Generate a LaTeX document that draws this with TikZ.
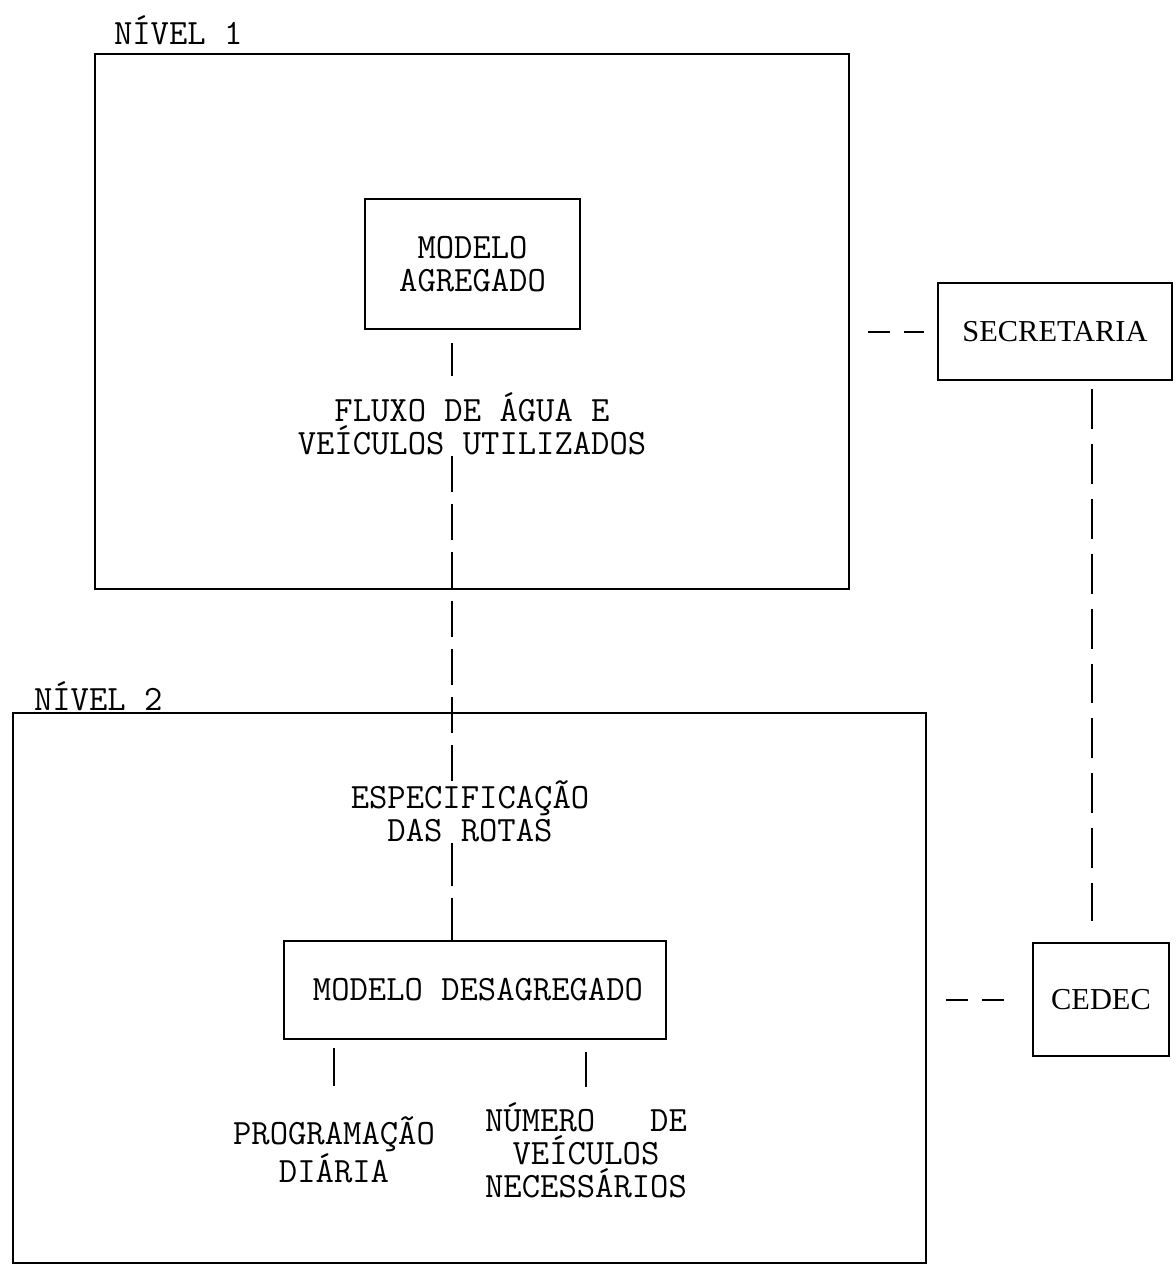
\documentclass[tikz,border=0pt]{standalone}
\usepackage{fontspec}
\newfontfamily\secfont{Liberation Serif}
\begin{document}
\begin{tikzpicture}[x=0.5pt,y=-0.5pt,
  line width=1pt,
  txt/.style={font=\fontsize{17.8}{16.6}\selectfont\ttfamily, align=center, inner sep=0pt},
  frame/.style={draw, inner sep=0pt},
  sbox/.style={draw, inner sep=0pt, font=\fontsize{15.2}{16}\selectfont\secfont},
  dashA/.style={dash pattern=on 18pt off 6.1pt},
  dashD/.style={dash pattern=on 21.5pt off 6pt},
  dashB/.style={dash pattern=on 19.95pt off 7.5pt},
  dashC/.style={dash pattern=on 11pt off 7pt}]
\useasboundingbox (0,0) rectangle (1176,1271);
\fill[white] (0,0) rectangle (1176,1271);

% level boxes
\node (box1) [frame, minimum width=377pt, minimum height=267.5pt] at (472,321.5) {};
\node (lvl1) [txt, anchor=west] at (113,30) {NÍVEL 1};
\node (box2) [frame, minimum width=456.5pt, minimum height=275pt] at (469.5,988) {};
\node (lvl2) [txt, anchor=west] at (33,696) {NÍVEL 2};

% inner boxes
\node (agr) [frame, txt, draw, minimum width=107.5pt, minimum height=65pt] at (472.5,264) {MODELO\\AGREGADO};
\node (des) [frame, txt, draw, minimum width=191pt, minimum height=49pt] at (475,990) {\hspace*{3pt}MODELO DESAGREGADO};

% labels
\node (fluxo) [txt] at (472,424) {FLUXO DE ÁGUA E\\VEÍCULOS UTILIZADOS};
\node (esp) [txt] at (470,811) {ESPECIFICAÇÃO\\DAS ROTAS};
\node (prog) [txt] at (334,1150) {PROGRAMAÇÃO\\DIÁRIA};
\node (num) [txt] at (586,1150) {NÚMERO\ \ \ DE\\VEÍCULOS\\NECESSÁRIOS};

% outside boxes
\node (sec) [sbox, minimum width=117pt, minimum height=48.5pt] at (1055,331.5) {SECRETARIA};
\node (cedec) [sbox, minimum width=68pt, minimum height=56.5pt] at (1101,999.5) {CEDEC};

% vertical connector between models
\coordinate (L) at (452,0);
\coordinate (f1) at (452,456);
\coordinate (f2) at (452,781);
\coordinate (f3) at (452,843);
\draw (agr.south -| L) ++(0,13) -- ++(0,33);
\draw[dashA] (f1) -- (f2);
\draw[dashD] (f3) -- (des.north -| L);

% ticks under disaggregated model
\draw (des.south -| prog) ++(0,8) -- ++(0,38);
\draw (des.south -| num) ++(0,12) -- ++(0,35);

% right vertical connector
\coordinate (R) at (1092,0);
\draw[dashB, shorten <=4pt, shorten >=10.5pt] (sec.south -| R) -- (cedec.north -| R);

% short horizontal dashes
\draw[dashC, shorten <=9pt, shorten >=6.5pt] (box1.east |- sec.west) -- (sec.west);
\draw[dashC, shorten <=9.5pt, shorten >=14pt] (box2.east |- cedec.west) -- (cedec.west);
\end{tikzpicture}
\end{document}
